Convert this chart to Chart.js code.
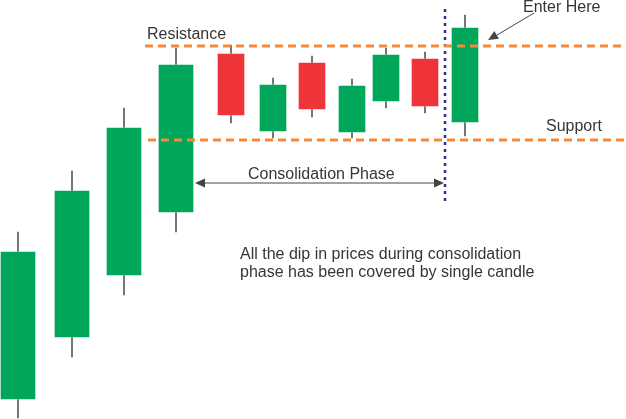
<!DOCTYPE html>
<html>
<head>
<meta charset="utf-8">
<title>Consolidation Breakout</title>
<script src="https://cdn.jsdelivr.net/npm/chart.js@4.4.1/dist/chart.umd.min.js"></script>
<style>
    html, body { margin: 0; padding: 0; background: #fff; }
    canvas { display: block; }
</style>
</head>
<body>
<canvas id="candleChart" width="626" height="419"></canvas>
<script>
// Candle positions along the x axis and their OHLC prices
const candlePos = [18, 72, 124, 176, 231, 273, 312, 352, 386, 425, 465];
const openPrices = [19, 81, 143, 206, 366, 287, 357, 286, 317, 361, 296];
const closePrices = [168, 229, 292, 355, 303, 335, 309, 334, 365, 312, 392];
const highPrices = [187, 248, 311, 371, 374, 341, 363, 340, 371, 367, 404];
const lowPrices = [1, 62, 124, 187, 296, 281, 302, 281, 311, 306, 283];

// Levels
const resistanceLevel = 373;
const supportLevel = 279;
const breakoutPos = 445;

(function () {
    "use strict";

    const green = "#00a65a";
    const red = "#ee3339";
    const textColor = "#363636";

    const bodies = (from, to) =>
        candlePos.slice(from, to).map((x, i) => ({
            x: x,
            y: [openPrices[from + i], closePrices[from + i]],
        }));
    const bodyColors = (from, to) =>
        openPrices
            .slice(from, to)
            .map((o, i) => (closePrices[from + i] >= o ? green : red));

    const wicks = candlePos.map((x, i) => ({
        x: x,
        y: [lowPrices[i], highPrices[i]],
    }));

    // Annotations drawn over the chart
    const annotations = {
        id: "annotations",
        afterDatasetsDraw(chart) {
            const ctx = chart.ctx;
            const xs = chart.scales.x;
            const ys = chart.scales.y;
            const px = (v) => xs.getPixelForValue(v);
            const py = (v) => ys.getPixelForValue(v);

            ctx.save();
            ctx.font = "16px 'Liberation Sans', Arial, sans-serif";
            ctx.fillStyle = textColor;
            ctx.textBaseline = "alphabetic";
            ctx.textAlign = "left";
            ctx.fillText("Resistance", px(147), py(380));
            ctx.fillText("Enter Here", px(523), py(407));
            ctx.fillText("Support", px(546), py(288));
            ctx.fillText("Consolidation Phase", px(248), py(240));
            ctx.fillText("All the dip in prices during consolidation", px(240), py(160));
            ctx.fillText("phase has been covered by single candle", px(240), py(142));

            const arrowHead = (x1, y1, x2, y2) => {
                const a = Math.atan2(y2 - y1, x2 - x1);
                const len = 10;
                const w = 4.5;
                ctx.beginPath();
                ctx.moveTo(x2, y2);
                ctx.lineTo(
                    x2 - len * Math.cos(a) + w * Math.sin(a),
                    y2 - len * Math.sin(a) - w * Math.cos(a)
                );
                ctx.lineTo(
                    x2 - len * Math.cos(a) - w * Math.sin(a),
                    y2 - len * Math.sin(a) + w * Math.cos(a)
                );
                ctx.closePath();
                ctx.fill();
            };

            // Consolidation span arrow
            ctx.strokeStyle = "#444";
            ctx.fillStyle = "#444";
            ctx.lineWidth = 1;
            const ay = py(236);
            ctx.beginPath();
            ctx.moveTo(px(200), ay);
            ctx.lineTo(px(440), ay);
            ctx.stroke();
            arrowHead(px(240), ay, px(195), ay);
            arrowHead(px(400), ay, px(444), ay);

            // Enter here pointer
            ctx.beginPath();
            ctx.moveTo(px(534), py(406));
            ctx.lineTo(px(497), py(384));
            ctx.stroke();
            arrowHead(px(534), py(406), px(488), py(379));
            ctx.restore();
        },
    };

    const ctx = document.getElementById("candleChart").getContext("2d");

    new Chart(ctx, {
        data: {
            datasets: [
                {
                    type: "line",
                    data: [
                        { x: 145, y: resistanceLevel },
                        { x: 626, y: resistanceLevel },
                    ],
                    borderColor: "#f5883b",
                    borderWidth: 3,
                    borderDash: [8, 5],
                    pointRadius: 0,
                    order: 0,
                },
                {
                    type: "line",
                    data: [
                        { x: 148, y: supportLevel },
                        { x: 626, y: supportLevel },
                    ],
                    borderColor: "#f5883b",
                    borderWidth: 3,
                    borderDash: [8, 5],
                    pointRadius: 0,
                    order: 0,
                },
                {
                    type: "line",
                    data: [
                        { x: breakoutPos, y: 410 },
                        { x: breakoutPos, y: 218 },
                    ],
                    borderColor: "#2e2e96",
                    borderWidth: 2.5,
                    borderDash: [3, 4],
                    pointRadius: 0,
                    order: 0,
                },
                {
                    type: "bar",
                    data: bodies(0, 4),
                    backgroundColor: bodyColors(0, 4),
                    borderColor: "rgba(255,255,255,0.3)",
                    borderWidth: 1,
                    borderSkipped: false,
                    barThickness: 36,
                    grouped: false,
                    order: 1,
                },
                {
                    type: "bar",
                    data: bodies(4, 11),
                    backgroundColor: bodyColors(4, 11),
                    borderColor: "rgba(255,255,255,0.3)",
                    borderWidth: 1,
                    borderSkipped: false,
                    barThickness: 28,
                    grouped: false,
                    order: 1,
                },
                {
                    type: "bar",
                    data: wicks,
                    backgroundColor: "#737373",
                    barThickness: 1.3,
                    grouped: false,
                    order: 2,
                },
            ],
        },
        options: {
            responsive: false,
            animation: false,
            devicePixelRatio: 1,
            layout: { padding: 0 },
            plugins: {
                legend: { display: false },
                tooltip: { enabled: false },
            },
            scales: {
                x: {
                    type: "linear",
                    min: 0,
                    max: 626,
                    offset: false,
                    display: false,
                },
                y: { type: "linear", min: 0, max: 419, display: false },
            },
        },
        plugins: [annotations],
    });
})();
</script>
</body>
</html>
